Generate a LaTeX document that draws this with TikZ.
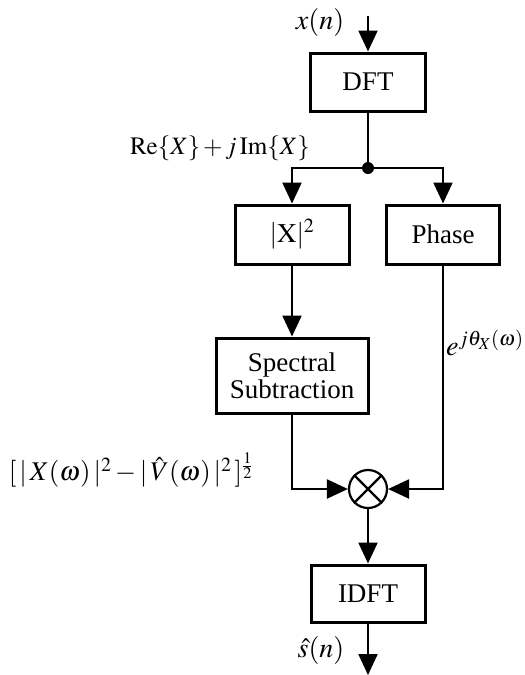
\documentclass[tikz,border=0pt]{standalone}
\usepackage{mathptmx}
\usepackage{fontspec}
\setmainfont{Liberation Serif}
\usetikzlibrary{arrows.meta}
\tikzset{
  block/.style={draw, line width=3pt, rectangle, inner sep=0pt, font=\fontsize{27}{31}\selectfont, align=center},
  conn/.style={line width=2.2pt},
  arr/.style={conn, -{Triangle[length=21pt,width=19pt]}},
  lbl/.style={font=\fontsize{28}{32}\selectfont, inner sep=0pt},
}
\begin{document}
\begin{tikzpicture}[x=1pt,y=-1pt]
\useasboundingbox (0,0) rectangle (525,675);
% processing blocks
\node[block, minimum width=115pt, minimum height=58pt] (dft) at (368,82) {DFT};
\node[block, minimum width=114pt, minimum height=59pt] (mag) at (292,234.5) {$|\mathrm{X}|^2$};
\node[block, minimum width=113pt, minimum height=59pt] (phase) at (443,234.5) {Phase};
\node[block, minimum width=152pt, minimum height=75pt] (ss) at (292,375.5) {Spectral\\[-4pt]Subtraction};
\node[draw, circle, line width=2.2pt, minimum size=38pt, inner sep=0pt] (mult) at (368,489) {};
\draw[conn] (mult.north west) -- (mult.south east) (mult.north east) -- (mult.south west);
\node[block, minimum width=114pt, minimum height=57pt] (idft) at (368,593.5) {IDFT};
% signal flow
\coordinate (in) at (368,16);
\coordinate (split) at (368,168);
\coordinate (out) at (368,675);
\draw[arr] (in) -- (dft.north);
\draw[conn] (dft.south) -- (split);
\fill (split) circle (6pt);
\draw[arr] (split) -| (mag.north);
\draw[arr] (split) -| (phase.north);
\draw[arr] (mag.south) -- (ss.north);
\draw[arr] (ss.south) |- (mult.west);
\draw[arr] (phase.south) |- (mult.east);
\draw[arr] (mult.south) -- (idft.north);
\draw[arr] (idft.south) -- (out);
% signal labels
\node[lbl] (xin) at (320,22) {$x(n)$};
\node[lbl, font=\fontsize{25}{29}\selectfont] (spec) at (220,148)
  {$\mathrm{Re}\{X\}\mkern2mu{+}\mkern2mu j\,\mathrm{Im}\{X\}$};
\node[lbl, anchor=west] (ph) at (446,343) {$e^{j\theta_X(\omega)}$};
\node[lbl, font=\fontsize{27}{31}\selectfont] (amp) at (131,470)
  {$[\,|\,X(\omega)\,|^2 - |\,\hat{V}(\omega)\,|^2\,]^{\frac{1}{2}}$};
\node[lbl] (sout) at (321,650) {$\hat{s}(n)$};
\end{tikzpicture}
\end{document}
